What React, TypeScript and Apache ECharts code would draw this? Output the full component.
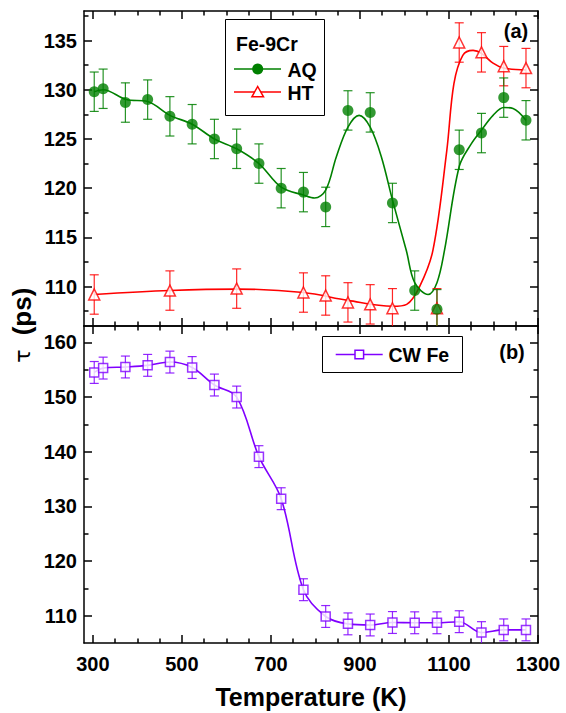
import React, { useEffect, useRef } from "react";
import * as echarts from "echarts";

// ---------- data ----------
const aqT = [303, 323, 373, 423, 473, 523, 573, 623, 673, 723, 773, 823, 873, 923, 973, 1023, 1073, 1123, 1173, 1223, 1273];
const aqTau = [129.8, 130.1, 128.7, 129.0, 127.3, 126.5, 125.0, 124.0, 122.5, 120.0, 119.6, 118.1, 127.9, 127.7, 118.5, 109.6, 107.7, 123.9, 125.6, 129.2, 126.9];
const aqErr = [2, 2, 2, 2, 2, 2, 2, 2, 2, 2, 2, 2, 2, 2, 2, 2, 2, 2, 2, 2, 2];

const aqFitT = [303, 323, 375, 423, 473, 523, 573, 623, 673, 723, 773, 798, 823, 847, 873, 898, 923, 948, 973, 1004, 1023, 1053, 1073, 1090, 1123, 1150, 1173, 1199, 1223, 1244, 1273];
const aqFitTau = [129.8, 130.0, 129.0, 128.8, 127.4, 126.5, 125.0, 124.0, 122.5, 120.1, 119.3, 119.0, 119.8, 123.2, 126.2, 127.4, 126.2, 123.2, 118.8, 113.7, 110.4, 109.2, 110.4, 113.7, 122.2, 124.5, 125.9, 127.4, 128.2, 128.1, 126.9];

const htT = [303, 473, 623, 773, 823, 873, 923, 973, 1073, 1123, 1173, 1223, 1273];
const htTau = [109.2, 109.6, 109.8, 109.4, 109.1, 108.4, 108.2, 107.8, 107.8, 134.8, 133.8, 132.4, 132.2];
const htErr = [2, 2, 2, 2, 2, 2, 2, 2, 2, 2, 2, 2, 2];

const htFitT = [303, 473, 623, 773, 873, 973, 1005, 1034, 1064, 1095, 1111, 1131, 1154, 1173, 1199, 1223, 1273];
const htFitTau = [109.2, 109.6, 109.75, 109.4, 108.6, 108.0, 108.2, 110.0, 113.7, 123.8, 130.6, 133.5, 134.0, 133.7, 132.7, 132.2, 132.0];

const cwT = [303, 323, 373, 423, 473, 523, 573, 623, 673, 723, 773, 823, 873, 923, 973, 1023, 1073, 1123, 1173, 1223, 1273];
const cwTau = [154.5, 155.3, 155.5, 155.8, 156.4, 155.4, 152.2, 150.0, 139.1, 131.4, 114.75, 109.85, 108.5, 108.3, 108.75, 108.7, 108.7, 108.9, 106.9, 107.4, 107.4];
const cwErr = [2, 2, 2, 2, 2, 2, 2, 2, 2, 2, 2, 2, 2, 2, 2, 2, 2, 2, 2, 2, 2];

const xMajor = [300, 500, 700, 900, 1100, 1300];
const xMinor = [350, 400, 450, 550, 600, 650, 750, 800, 850, 950, 1000, 1050, 1150, 1200, 1250];
const yaMajor = [110, 115, 120, 125, 130, 135];
const yaMinor = [107.5, 112.5, 117.5, 122.5, 127.5, 132.5, 137.5];
const ybMajor = [110, 120, 130, 140, 150, 160];
const ybMinor = [115, 125, 135, 145, 155];

const X_MIN = 280, X_MAX = 1300;
const YA_MIN = 106, YA_MAX = 138;
const YB_MIN = 105, YB_MAX = 163;

const GREEN = "#008000";
const RED = "#ff0000";
const PURPLE = "#8000ff";
const FONT = "Liberation Sans, Arial, sans-serif";

const tickStyle = { color: "#000", width: 1.5 };
const plain = (v: number) => String(v);

function xAxes(gridIndex: number, showLabels: boolean, name?: string) {
  const base: any = { type: "value", gridIndex, min: X_MIN, max: X_MAX, splitLine: { show: false } };
  const label = showLabels
    ? { show: true, customValues: xMajor, formatter: plain, color: "#000", fontSize: 20, fontWeight: "bold", fontFamily: FONT, margin: 11 }
    : { show: false };
  return [
    {
      ...base,
      position: "bottom",
      name: name || "",
      nameLocation: "middle",
      nameGap: 41,
      nameTextStyle: { color: "#000", fontSize: 25, fontWeight: "bold", fontFamily: FONT },
      axisLine: { show: true, onZero: false, lineStyle: tickStyle },
      axisTick: { show: true, inside: true, length: 8, customValues: xMajor, lineStyle: tickStyle },
      axisLabel: label,
    },
    {
      ...base,
      position: "bottom",
      axisLine: { show: false, onZero: false },
      axisTick: { show: true, inside: true, length: 4.5, customValues: xMinor, lineStyle: tickStyle },
      axisLabel: { show: false },
    },
    {
      ...base,
      position: "top",
      axisLine: { show: true, onZero: false, lineStyle: tickStyle },
      axisTick: { show: true, inside: true, length: 8, customValues: xMajor, lineStyle: tickStyle },
      axisLabel: { show: false },
    },
    {
      ...base,
      position: "top",
      axisLine: { show: false, onZero: false },
      axisTick: { show: true, inside: true, length: 4.5, customValues: xMinor, lineStyle: tickStyle },
      axisLabel: { show: false },
    },
  ];
}

function yAxes(gridIndex: number, min: number, max: number, major: number[], minor: number[]) {
  const base: any = { type: "value", gridIndex, min, max, splitLine: { show: false } };
  return [
    {
      ...base,
      position: "left",
      axisLine: { show: true, onZero: false, lineStyle: tickStyle },
      axisTick: { show: true, inside: true, length: 8, customValues: major, lineStyle: tickStyle },
      axisLabel: { show: true, customValues: major, formatter: plain, color: "#000", fontSize: 20, fontWeight: "bold", fontFamily: FONT, margin: 7 },
    },
    {
      ...base,
      position: "left",
      axisLine: { show: false, onZero: false },
      axisTick: { show: true, inside: true, length: 4.5, customValues: minor, lineStyle: tickStyle },
      axisLabel: { show: false },
    },
    {
      ...base,
      position: "right",
      axisLine: { show: true, onZero: false, lineStyle: tickStyle },
      axisTick: { show: true, inside: true, length: 8, customValues: major, lineStyle: tickStyle },
      axisLabel: { show: false },
    },
    {
      ...base,
      position: "right",
      axisLine: { show: false, onZero: false },
      axisTick: { show: true, inside: true, length: 4.5, customValues: minor, lineStyle: tickStyle },
      axisLabel: { show: false },
    },
  ];
}

function errorSeries(T: number[], v: number[], e: number[], color: string, axisIdx: number, ymin: number, ymax: number) {
  return {
    type: "custom",
    xAxisIndex: axisIdx,
    yAxisIndex: axisIdx,
    silent: true,
    z: 3,
    encode: { x: 0, y: 1 },
    data: T.map((t, i) => [t, v[i], e[i]]),
    renderItem: (params: any, api: any) => {
      const x = api.value(0);
      const y = api.value(1);
      const err = api.value(2);
      const lo = Math.max(y - err, ymin);
      const hi = Math.min(y + err, ymax);
      const pLo = api.coord([x, lo]);
      const pHi = api.coord([x, hi]);
      const hw = 4.5;
      const st = { stroke: color, lineWidth: 1.2, opacity: 0.85 };
      const children: any[] = [
        { type: "line", shape: { x1: pLo[0], y1: pLo[1], x2: pHi[0], y2: pHi[1] }, style: st },
      ];
      if (y + err <= ymax) children.push({ type: "line", shape: { x1: pHi[0] - hw, y1: pHi[1], x2: pHi[0] + hw, y2: pHi[1] }, style: st });
      if (y - err >= ymin) children.push({ type: "line", shape: { x1: pLo[0] - hw, y1: pLo[1], x2: pLo[0] + hw, y2: pLo[1] }, style: st });
      return { type: "group", children };
    },
  };
}

function fitSeries(T: number[], v: number[], color: string, axisIdx: number) {
  return {
    type: "line",
    xAxisIndex: axisIdx,
    yAxisIndex: axisIdx,
    data: T.map((t, i) => [t, v[i]]),
    smooth: 0.35,
    showSymbol: false,
    symbol: "none",
    silent: true,
    z: 2,
    lineStyle: { color, width: 1.6 },
  };
}

export default function App() {
  const ref = useRef<HTMLDivElement>(null);

  useEffect(() => {
    if (!ref.current) return;
    const chart = echarts.init(ref.current, null, { renderer: "svg" });
    const LEG = `bold 19.5px ${FONT}`;
    const option: any = {
      animation: false,
      backgroundColor: "#fff",
      grid: [
        { left: 84, top: 11, width: 454, height: 315, containLabel: false },
        { left: 84, top: 326, width: 454, height: 317, containLabel: false },
      ],
      xAxis: [...xAxes(0, false), ...xAxes(1, true, "Temperature (K)")],
      yAxis: [...yAxes(0, YA_MIN, YA_MAX, yaMajor, yaMinor), ...yAxes(1, YB_MIN, YB_MAX, ybMajor, ybMinor)],
      series: [
        fitSeries(htFitT, htFitTau, RED, 0),
        fitSeries(aqFitT, aqFitTau, GREEN, 0),
        errorSeries(htT, htTau, htErr, RED, 0, YA_MIN, YA_MAX),
        errorSeries(aqT, aqTau, aqErr, GREEN, 0, YA_MIN, YA_MAX),
        {
          name: "HT",
          type: "scatter",
          xAxisIndex: 0,
          yAxisIndex: 0,
          data: htT.map((t, i) => [t, htTau[i]]),
          symbol: "triangle",
          symbolSize: 11,
          z: 4,
          itemStyle: { color: "#fff", borderColor: RED, borderWidth: 1.5 },
        },
        {
          name: "AQ",
          type: "scatter",
          xAxisIndex: 0,
          yAxisIndex: 0,
          data: aqT.map((t, i) => [t, aqTau[i]]),
          symbol: "circle",
          symbolSize: 11,
          z: 5,
          itemStyle: { color: GREEN },
        },
        {
          name: "CW Fe fit",
          type: "line",
          xAxisIndex: 4,
          yAxisIndex: 4,
          data: cwT.map((t, i) => [t, cwTau[i]]),
          smooth: 0.35,
          showSymbol: false,
          symbol: "none",
          z: 2,
          lineStyle: { color: PURPLE, width: 1.6 },
        },
        errorSeries(cwT, cwTau, cwErr, PURPLE, 4, YB_MIN, YB_MAX),
        {
          name: "CW Fe",
          type: "scatter",
          xAxisIndex: 4,
          yAxisIndex: 4,
          data: cwT.map((t, i) => [t, cwTau[i]]),
          symbol: "rect",
          symbolSize: 9,
          z: 5,
          itemStyle: { color: "#fff", borderColor: PURPLE, borderWidth: 1.5 },
        },
      ],
      graphic: [
        // y-axis title
        {
          type: "text",
          x: 22,
          y: 311.5,
          rotation: Math.PI / 2,
          style: { text: "(ps)", fill: "#000", font: `bold 26px ${FONT}`, align: "center", verticalAlign: "middle" },
        },
        {
          type: "text",
          x: 22,
          y: 356,
          rotation: Math.PI / 2,
          style: { text: "τ", fill: "#000", font: `22px DejaVu Sans, sans-serif`, align: "center", verticalAlign: "middle" },
        },
        // panel labels
        { type: "text", x: 516, y: 31, style: { text: "(a)", fill: "#000", font: `bold 20px ${FONT}`, align: "center", verticalAlign: "middle" } },
        { type: "text", x: 512, y: 352, style: { text: "(b)", fill: "#000", font: `bold 20px ${FONT}`, align: "center", verticalAlign: "middle" } },
        // legend (a)
        { type: "rect", shape: { x: 225.5, y: 19.5, width: 99, height: 96 }, style: { fill: "#fff", stroke: "#000", lineWidth: 1 }, z: 10 },
        { type: "text", x: 236, y: 44, z: 11, style: { text: "Fe-9Cr", fill: "#000", font: LEG, align: "left", verticalAlign: "middle" } },
        { type: "line", z: 11, shape: { x1: 234, y1: 69, x2: 281, y2: 69 }, style: { stroke: GREEN, lineWidth: 1.6 } },
        { type: "circle", z: 12, shape: { cx: 257.7, cy: 69, r: 5.5 }, style: { fill: GREEN } },
        { type: "text", x: 287.5, y: 69.5, z: 11, style: { text: "AQ", fill: "#000", font: LEG, align: "left", verticalAlign: "middle" } },
        { type: "line", z: 11, shape: { x1: 234, y1: 92, x2: 281, y2: 92 }, style: { stroke: RED, lineWidth: 1.6 } },
        { type: "polygon", z: 12, shape: { points: [[257.7, 86.5], [263.5, 96.8], [251.9, 96.8]] }, style: { fill: "#fff", stroke: RED, lineWidth: 1.5 } },
        { type: "text", x: 287.5, y: 93, z: 11, style: { text: "HT", fill: "#000", font: LEG, align: "left", verticalAlign: "middle" } },
        // legend (b)
        { type: "rect", z: 10, shape: { x: 322.5, y: 336.5, width: 140, height: 36 }, style: { fill: "#fff", stroke: "#000", lineWidth: 1 } },
        { type: "line", z: 11, shape: { x1: 335.7, y1: 354.5, x2: 382.7, y2: 354.5 }, style: { stroke: PURPLE, lineWidth: 1.6 } },
        { type: "rect", z: 12, shape: { x: 355, y: 350.2, width: 8.6, height: 8.6 }, style: { fill: "#fff", stroke: PURPLE, lineWidth: 1.5 } },
        { type: "text", x: 388.5, y: 355, z: 11, style: { text: "CW Fe", fill: "#000", font: LEG, align: "left", verticalAlign: "middle" } },
      ],
    };
    chart.setOption(option);
    return () => chart.dispose();
  }, []);

  return (
    <div
      ref={ref}
      style={{ position: "fixed", left: 0, top: 0, width: 566, height: 713, background: "#fff" }}
    />
  );
}
